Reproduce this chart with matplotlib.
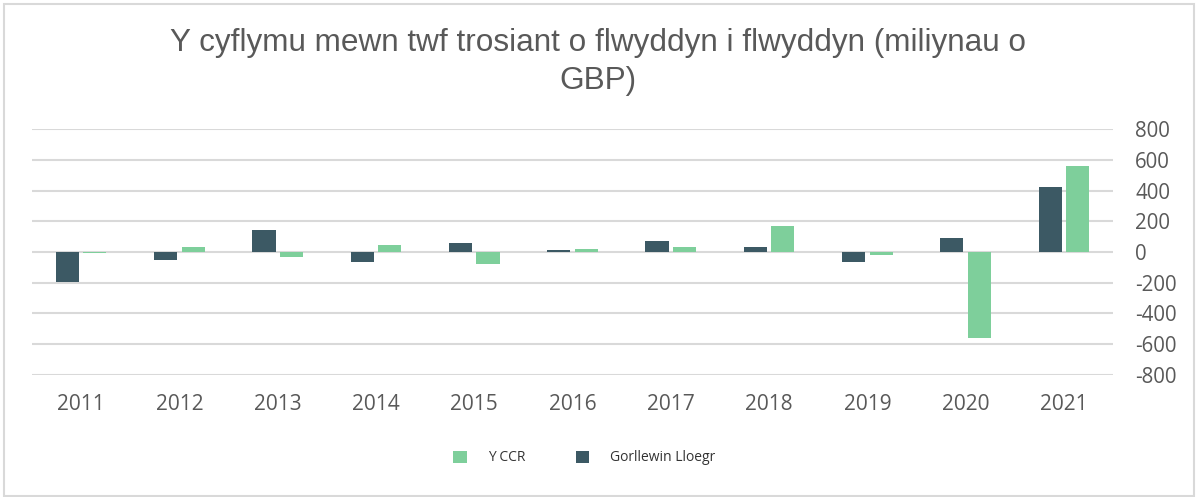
# Year-on-year turnover growth, grouped bar chart (Welsh labels)
import numpy as np
import matplotlib.pyplot as plt
from matplotlib.patches import Rectangle

# Data (millions of GBP)
years = ["2011", "2012", "2013", "2014", "2015", "2016",
         "2017", "2018", "2019", "2020", "2021"]
gorllewin = [-195, -55, 140, -68, 60, 10, 72, 33, -68, 93, 425]
y_ccr = [-8, 30, -35, 48, -78, 22, 30, 167, -22, -558, 562]
yticks = [-800, -600, -400, -200, 0, 200, 400, 600, 800]

dark = "#3c5964"
green = "#7ecf9b"
grey_txt = "#595959"

fig = plt.figure(figsize=(11.96, 4.97), dpi=100)
ax = fig.add_axes([0.0268, 0.2455, 0.9038, 0.4949])

x = np.arange(len(years))
w = 0.235
ax.bar(x - 0.14, gorllewin, w, color=dark, label="Gorllewin Lloegr", zorder=3)
ax.bar(x + 0.14, y_ccr, w, color=green, label="Y CCR", zorder=3)

ax.set_xlim(-0.5, 10.5)
ax.set_ylim(-800, 800)
ax.set_yticks(yticks)
ax.set_yticklabels([str(v) for v in yticks])
ax.yaxis.tick_right()
ax.tick_params(axis="y", length=0, pad=16, labelsize=14.8, labelcolor=grey_txt)
for lab in ax.get_yticklabels():
    lab.set_horizontalalignment("left")
    lab.set_fontfamily("Open Sans")
ax.set_xticks(x)
ax.set_xticklabels(years, fontfamily="Open Sans", fontsize=15, color=grey_txt)
ax.tick_params(axis="x", length=0, pad=14)

ax.grid(axis="y", color="#d9d9d9", linewidth=1.5, zorder=0)
for s in ax.spines.values():
    s.set_visible(False)

# Two-line title
fig.text(0.5, 1 - 51 / 497, "Y cyflymu mewn twf trosiant o flwyddyn i flwyddyn (miliynau o",
         ha="center", va="baseline", fontsize=22.7, color=grey_txt,
         fontfamily="Liberation Sans")
fig.text(0.5, 1 - 89 / 497, "GBP)", ha="center", va="baseline", fontsize=22.7,
         color=grey_txt, fontfamily="Liberation Sans")

# Legend: Y CCR first, then Gorllewin Lloegr
h, l = ax.get_legend_handles_labels()
fig.legend(h[::-1], l[::-1], loc="center", bbox_to_anchor=(0.4887, 0.0785),
           ncol=2, frameon=False, handlelength=1.0, handleheight=1.0,
           handletextpad=1.5, columnspacing=3.6,
           prop={"family": "Open Sans", "size": 10})
for t in fig.legends[0].get_texts():
    t.set_color("#333333")

# Light border round the whole chart
fig.patches.append(Rectangle((4 / 1196, 1 / 497), 1190 / 1196, 492 / 497,
                             transform=fig.transFigure, fill=False,
                             edgecolor="#d9d9d9", linewidth=1.5))

fig.savefig("out.png", dpi=100)
